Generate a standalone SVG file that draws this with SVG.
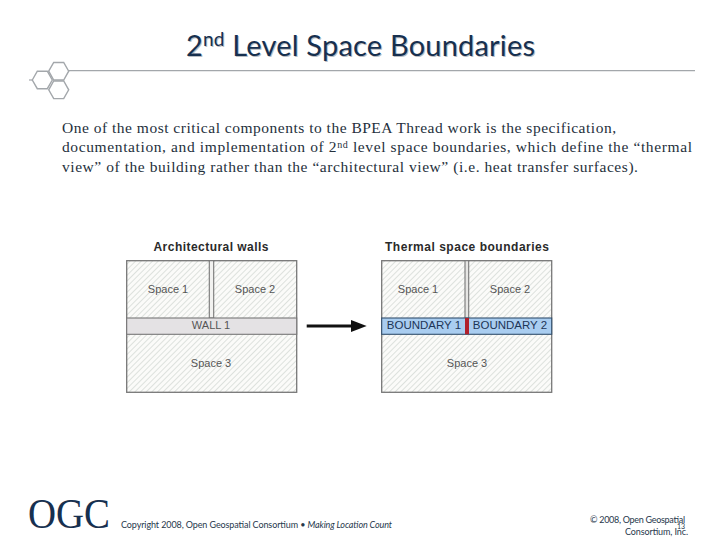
<svg xmlns="http://www.w3.org/2000/svg" width="720" height="540" viewBox="0 0 720 540">
<style>
.title{font-family:"Lato","Open Sans",sans-serif;font-size:29px;fill:#17304f}
.shadow{fill:#b9bdc2}
.body{font-family:"Liberation Serif","DejaVu Serif",serif;font-size:15.5px;fill:#25303c}
.head{font-family:"Liberation Sans",Arial,sans-serif;font-size:12px;font-weight:bold;fill:#2a2a2a}
.lab{font-family:"Liberation Sans",Arial,sans-serif;font-size:11px;fill:#555;text-anchor:middle}
.blab{font-family:"Liberation Sans",Arial,sans-serif;font-size:11.5px;fill:#1d3557;text-anchor:middle}
.foot{font-family:"Lato","Noto Sans",sans-serif;font-size:9px;fill:#27384c}
.hex{fill:none;stroke:#a3a7ab;stroke-width:1.4}
.box{fill:url(#hatch);stroke:#777;stroke-width:1.3}
</style>
<defs>
<pattern id="hatch" width="4" height="4" patternUnits="userSpaceOnUse" patternTransform="rotate(45)">
<rect width="4" height="4" fill="#fbfbf9"/>
<line x1="0" y1="0" x2="0" y2="4" stroke="#d6dbd6" stroke-width="1.6"/>
</pattern>
</defs>
<rect width="720" height="540" fill="#ffffff"/>

<g id="title">
<text class="title shadow" x="187" y="57" textLength="349" lengthAdjust="spacing">2<tspan font-size="19" dy="-10">nd</tspan><tspan dy="10"> Level Space Boundaries</tspan></text>
<text class="title" x="186" y="56" textLength="349" lengthAdjust="spacing">2<tspan font-size="19" dy="-10">nd</tspan><tspan dy="10"> Level Space Boundaries</tspan></text>
</g>

<g id="logo-rule">
<line x1="68" y1="70.7" x2="695" y2="70.7" stroke="#a3a7ab" stroke-width="1.3"/>
<line x1="29" y1="80" x2="32.5" y2="80" stroke="#a3a7ab" stroke-width="1.2"/>
<polygon class="hex" points="48.7,71.2 53.7,62.5 63.7,62.5 68.7,71.2 63.7,80 53.7,80"/>
<polygon class="hex" points="48.7,89.8 53.7,81 63.7,81 68.7,89.8 63.7,98.6 53.7,98.6"/>
<polygon class="hex" points="32.3,80 37.3,71.2 47.3,71.2 52.3,80 47.3,88.7 37.3,88.7"/>
</g>

<g id="body">
<text class="body" x="62" y="133" textLength="554" lengthAdjust="spacing">One of the most critical components to the BPEA Thread work is the specification,</text>
<text class="body" x="62" y="152" textLength="630" lengthAdjust="spacing">documentation, and implementation of 2<tspan font-size="10" dy="-4">nd</tspan><tspan dy="4"> level space boundaries, which define the “thermal</tspan></text>
<text class="body" x="62" y="172" textLength="576" lengthAdjust="spacing">view” of the building rather than the “architectural view” (i.e. heat transfer surfaces).</text>
</g>

<g id="architectural-walls">
<text class="head" x="153.5" y="251" textLength="115" lengthAdjust="spacing">Architectural walls</text>
<rect class="box" x="126.7" y="260.7" width="170" height="131.6"/>
<rect x="209.3" y="260.7" width="4.4" height="57.3" fill="#f2f2f0" stroke="#777" stroke-width="1.1"/>
<rect x="126.7" y="318" width="170" height="16.3" fill="#e4e2e4" stroke="#777" stroke-width="1.1"/>
<text class="lab" x="168" y="293">Space 1</text>
<text class="lab" x="255" y="293">Space 2</text>
<text class="lab" x="211" y="329">WALL 1</text>
<text class="lab" x="211" y="367">Space 3</text>
</g>

<g id="thermal-space-boundaries">
<text class="head" x="385" y="251" textLength="164" lengthAdjust="spacing">Thermal space boundaries</text>
<rect class="box" x="381.7" y="260.7" width="170" height="131.6"/>
<rect x="465" y="260.7" width="3.7" height="57.3" fill="#e6e6e4" stroke="#777" stroke-width="1.1"/>
<rect x="381.7" y="318" width="170" height="16.3" fill="#a9cdf0" stroke="#33506e" stroke-width="1.1"/>
<rect x="465" y="318" width="4" height="16.3" fill="#b0202c"/>
<text class="lab" x="418" y="293">Space 1</text>
<text class="lab" x="510" y="293">Space 2</text>
<text class="blab" x="424" y="329">BOUNDARY 1</text>
<text class="blab" x="510" y="329">BOUNDARY 2</text>
<text class="lab" x="467" y="367">Space 3</text>
</g>

<g id="connectors">
<line x1="306.7" y1="326" x2="352" y2="326" stroke="#111" stroke-width="3"/>
<polygon points="351,320 366.7,326 351,332" fill="#111"/>
</g>

<g id="footer">
<text x="28" y="528" font-family="'Liberation Serif',serif" font-size="42" fill="#17304f" textLength="82" lengthAdjust="spacingAndGlyphs">OGC</text>
<text class="foot" x="121" y="527.5" textLength="271" lengthAdjust="spacing">Copyright 2008, Open Geospatial Consortium • <tspan font-style="italic">Making Location Count</tspan></text>
<text class="foot" x="590" y="522.5" textLength="95" lengthAdjust="spacing">© 2008, Open Geospatial</text>
<text class="foot" x="625" y="535" textLength="63" lengthAdjust="spacing">Consortium, Inc.</text>
<text class="foot" x="677" y="529" font-size="7" style="font-size:7px">13</text>
</g>
</svg>
